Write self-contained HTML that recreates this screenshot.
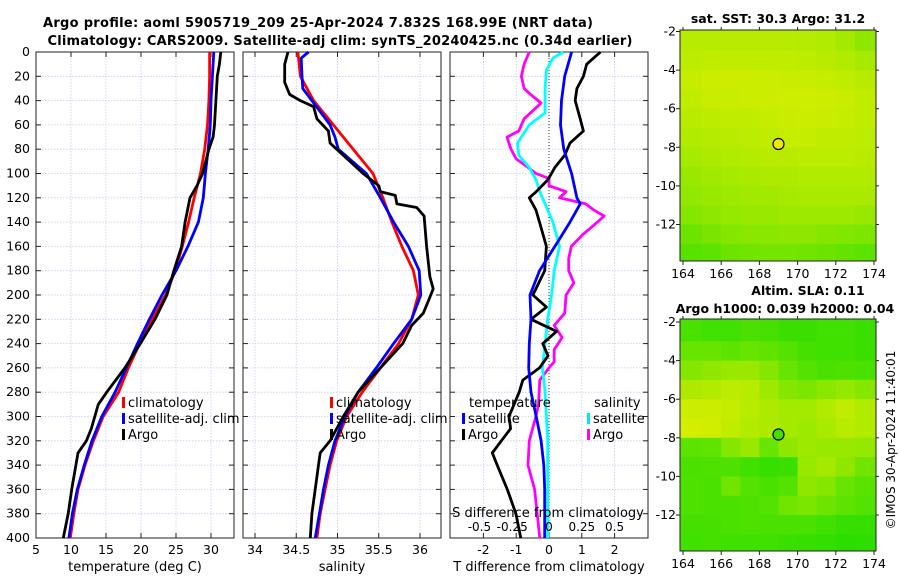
<!DOCTYPE html>
<html><head><meta charset="utf-8"><style>
body{margin:0;background:#fff;}
svg{display:block;font-family:"DejaVu Sans","Liberation Sans",sans-serif;}
</style></head><body>
<svg id="c" width="900" height="580" viewBox="0 0 900 580">
<rect width="900" height="580" fill="#fff"/>
<text x="318" y="27" font-size="13" font-weight="bold" text-anchor="middle" textLength="550">Argo profile: aoml 5905719_209 25-Apr-2024 7.832S 168.99E (NRT data)</text>
<text x="340" y="45" font-size="13" font-weight="bold" text-anchor="middle" textLength="585">Climatology: CARS2009. Satellite-adj clim: synTS_20240425.nc (0.34d earlier)</text>
<text x="778" y="23" font-size="12.5" font-weight="bold" text-anchor="middle">sat. SST: 30.3 Argo: 31.2</text>
<text x="808" y="295" font-size="12.5" font-weight="bold" text-anchor="middle">Altim. SLA: 0.11</text>
<text x="785" y="313" font-size="12.5" font-weight="bold" text-anchor="middle">Argo h1000: 0.039 h2000: 0.04</text>
<text x="0" y="0" font-size="12" text-anchor="middle" transform="translate(895,440) rotate(-90)">©IMOS 30-Apr-2024 11:40:01</text>
<g id="g"></g>
</svg>
<script>
// ---- profile data ----
const depthsClim = [0,20,40,60,80,100,120,140,160,180,200,220,240,260,280,300,320,340,360,380,400];
const tempClim = [29.8,29.8,29.7,29.5,29.1,28.5,27.6,26.8,25.9,24.9,23.5,21.6,19.8,18.2,16.8,14.6,13.2,12.0,11.0,10.4,9.9];
const tempSat = [30.4,30.2,30.0,29.9,29.6,29.2,28.9,28.2,26.7,25.0,23.0,21.2,19.5,17.9,16.3,14.4,13.0,11.9,10.9,10.2,9.7];
const depthsArgoT = [0,10,20,40,60,70,80,100,110,120,140,160,180,200,220,240,260,280,290,300,310,320,330,340,360,380,400];
const tempArgo = [31.4,31.2,30.9,30.7,30.5,30.3,29.7,28.8,28.0,27.0,26.3,25.8,24.7,23.7,22.0,19.9,17.7,15.1,13.9,13.4,12.9,12.2,11.0,10.7,10.1,9.6,8.9];
const salClim = [34.52,34.55,34.71,34.95,35.19,35.43,35.55,35.66,35.78,35.92,35.98,35.9,35.74,35.52,35.3,35.11,34.99,34.91,34.85,34.79,34.75];
const depthsSalSat = [0,5,20,30,40,60,70,80,100,120,140,160,180,200,220,240,260,280,300,320,340,360,380,400];
const salSat = [34.65,34.56,34.57,34.58,34.69,34.91,34.97,35.01,35.35,35.52,35.68,35.86,35.99,36.01,35.9,35.68,35.47,35.25,35.09,34.97,34.89,34.83,34.78,34.73];
const depthsSalArgo = [0,10,25,35,40,45,55,65,75,80,90,100,110,115,118,125,128,135,160,185,195,205,215,225,240,260,280,300,320,330,340,360,380,400];
const salArgo = [34.4,34.36,34.36,34.42,34.55,34.71,34.75,34.89,34.91,34.99,35.15,35.31,35.5,35.52,35.7,35.72,35.96,36.05,36.08,36.12,36.16,36.1,36.04,35.9,35.79,35.52,35.25,35.07,34.91,34.79,34.77,34.73,34.69,34.67];
const depthsDT = [0,20,40,60,80,100,120,125,140,160,180,200,220,240,260,280,300,320,340,360,380,400];
const dTsat = [0.69,0.48,0.38,0.35,0.45,0.69,0.85,0.95,0.64,0.18,-0.29,-0.58,-0.55,-0.6,-0.62,-0.55,-0.39,-0.24,-0.16,-0.13,-0.13,-0.13];
const depthsDTArgo = [0,5,10,20,30,40,55,65,75,85,95,105,115,120,130,140,160,180,200,210,220,230,240,250,260,270,280,300,310,330,340,360,380,400];
const dTargo = [1.57,1.36,1.15,1.05,0.85,0.8,0.95,1.05,0.64,0.48,0.18,-0.03,-0.39,-0.6,-0.4,-0.29,-0.08,-0.13,-0.49,-0.08,-0.55,0.23,-0.19,-0.03,-0.29,-0.8,-0.91,-1.22,-1.17,-1.73,-1.58,-1.27,-1.01,-0.86];
const depthsDS = [0,5,15,30,50,60,75,85,95,105,115,125,140,160,180,200,220,240,260,280,300,320,400];
const dSsat = [0.11,0.03,-0.02,-0.03,-0.03,-0.15,-0.24,-0.23,-0.15,-0.1,-0.07,-0.03,0.03,0.08,0.04,0.02,-0.01,-0.03,-0.05,-0.03,-0.02,-0.01,-0.01];
const depthsDSArgo = [0,10,20,30,35,42,48,55,65,70,80,88,95,100,104,110,115,120,125,130,135,140,150,160,170,180,190,200,215,225,235,245,255,260,270,290,300,320,340,360,380,400];
const dSargo = [-0.15,-0.19,-0.21,-0.19,-0.14,-0.06,-0.12,-0.19,-0.23,-0.32,-0.29,-0.25,-0.16,-0.1,0.0,0.0,0.13,0.08,0.28,0.34,0.42,0.37,0.26,0.17,0.15,0.15,0.19,0.13,0.12,0.04,0.1,0.04,0.04,0.0,-0.07,-0.08,-0.1,-0.15,-0.16,-0.11,-0.09,-0.07];
const depthTicks = [0,20,40,60,80,100,120,140,160,180,200,220,240,260,280,300,320,340,360,380,400];
const tempTicks = [5,10,15,20,25,30];
const salTicks = [34,34.5,35,35.5,36];
const dTTicks = [-2,-1,0,1,2];
const dSTickLabels = ["-0.5","-0.25","0","0.25","0.5"];
const dSTicks = [-0.5,-0.25,0,0.25,0.5];
// ---- map data (10 lon cols 164..174 x 12 lat rows -2..-14), 0=green 1=yellow ----
const sstGrid = [
[0.75,0.75,0.76,0.76,0.76,0.75,0.74,0.72,0.65,0.55],
[0.78,0.8,0.8,0.8,0.8,0.8,0.78,0.76,0.72,0.66],
[0.82,0.85,0.86,0.86,0.85,0.84,0.84,0.82,0.8,0.76],
[0.8,0.84,0.84,0.85,0.86,0.87,0.87,0.86,0.84,0.8],
[0.76,0.78,0.8,0.8,0.82,0.84,0.85,0.84,0.82,0.8],
[0.72,0.74,0.76,0.78,0.8,0.82,0.82,0.8,0.8,0.78],
[0.66,0.7,0.72,0.74,0.76,0.76,0.78,0.78,0.78,0.76],
[0.6,0.64,0.66,0.68,0.7,0.7,0.72,0.72,0.72,0.72],
[0.56,0.6,0.62,0.64,0.64,0.66,0.68,0.68,0.68,0.68],
[0.5,0.54,0.58,0.6,0.6,0.62,0.62,0.62,0.62,0.6],
[0.38,0.44,0.5,0.52,0.52,0.54,0.54,0.5,0.48,0.46],
[0.28,0.3,0.38,0.4,0.42,0.42,0.4,0.38,0.34,0.3]];
const slaGrid = [
[0.2,0.15,0.15,0.2,0.18,0.12,0.12,0.15,0.15,0.12],
[0.35,0.35,0.3,0.35,0.32,0.25,0.18,0.15,0.15,0.12],
[0.5,0.55,0.6,0.6,0.5,0.35,0.25,0.2,0.22,0.2],
[0.7,0.72,0.78,0.75,0.62,0.5,0.45,0.52,0.58,0.5],
[0.85,0.85,0.82,0.75,0.7,0.65,0.65,0.72,0.8,0.72],
[0.9,0.88,0.8,0.72,0.7,0.65,0.62,0.68,0.75,0.72],
[0.3,0.32,0.5,0.6,0.35,0.55,0.62,0.6,0.6,0.58],
[0.2,0.22,0.22,0.15,0.1,0.12,0.6,0.65,0.55,0.4],
[0.22,0.2,0.4,0.25,0.2,0.25,0.55,0.5,0.35,0.28],
[0.22,0.2,0.2,0.22,0.25,0.4,0.45,0.38,0.3,0.25],
[0.18,0.18,0.2,0.22,0.2,0.2,0.2,0.15,0.1,0.1],
[0.15,0.18,0.15,0.15,0.15,0.12,0.1,0.08,0.04,0.06]];
const lonTicks = [164,166,168,170,172,174];
const latTicks = [-2,-4,-6,-8,-10,-12];
const argoLon = 169.0, argoLat = -7.83;

const NS="http://www.w3.org/2000/svg";
const G=document.getElementById('g');
function mk(tag,attrs,parent){const e=document.createElementNS(NS,tag);for(const k in attrs)e.setAttribute(k,attrs[k]);(parent||G).appendChild(e);return e;}
function txt(s,x,y,attrs,parent){const e=mk('text',Object.assign({x:x,y:y,'font-size':12},attrs||{}),parent);e.textContent=s;return e;}

const TOP=52,BOT=538;
function yD(d){return TOP+d*(BOT-TOP)/400;}
function lin(d0,p0,d1,p1){return v=>p0+(v-d0)*(p1-p0)/(d1-d0);}
const panels=[
 {x0:36,x1:234,sx:lin(5,36,30,211),ticks:tempTicks,name:'temperature-panel'},
 {x0:243,x1:441,sx:lin(34,255,36,420),ticks:salTicks,name:'salinity-panel'},
 {x0:450,x1:648,sx:lin(0,549,1,581.8),ticks:dTTicks,name:'difference-panel'}];
const sxS=lin(0,549,0.25,581.8);

panels.forEach((p,i)=>{
 const g=mk('g',{});  
 depthTicks.forEach(d=>{mk('line',{x1:p.x0,x2:p.x1,y1:yD(d),y2:yD(d),stroke:'#c4cbee','stroke-width':0.8,'stroke-dasharray':'1.5,1.5'},g);
  mk('line',{x1:p.x0,x2:p.x0+5,y1:yD(d),y2:yD(d),stroke:'#222'},g);
  mk('line',{x1:p.x1,x2:p.x1-5,y1:yD(d),y2:yD(d),stroke:'#222'},g);
  if(i==0){const t=txt(String(d),30,yD(d)+4,{'text-anchor':'end','font-size':12.5},g);}});
 p.ticks.forEach(v=>{const x=p.sx(v);
  mk('line',{x1:x,x2:x,y1:TOP,y2:BOT,stroke:'#c4cbee','stroke-width':0.8,'stroke-dasharray':'1.5,1.5'},g);
  mk('line',{x1:x,x2:x,y1:BOT,y2:BOT-5,stroke:'#222'},g);
  mk('line',{x1:x,x2:x,y1:TOP,y2:TOP+5,stroke:'#222'},g);
  const t=txt(String(v),x,BOT+16,{'text-anchor':'middle','font-size':12.5},g);
  
  });
 const fr=mk('rect',{x:p.x0,y:TOP,width:p.x1-p.x0,height:BOT-TOP,fill:'none',stroke:'#222','stroke-width':1},g);
 
 
});
mk('line',{x1:549,x2:549,y1:TOP,y2:BOT,stroke:'#333','stroke-width':1,'stroke-dasharray':'1,2'});

function line(ds,vs,sx,color,name){const pts=ds.map((d,k)=>sx(vs[k]).toFixed(1)+','+yD(d).toFixed(1)).join(' ');
 const e=mk('polyline',{points:pts,fill:'none',stroke:color,'stroke-width':2.8,'stroke-linejoin':'round'});
 
 }
const pT=panels[0].sx,pS=panels[1].sx,pD=panels[2].sx;
line(depthsClim,tempClim,pT,'#ff0000','temp-climatology-line');
line(depthsClim,tempSat,pT,'#0000ff','temp-satellite-line');
line(depthsArgoT,tempArgo,pT,'#000','temp-argo-line');
line(depthsClim,salClim,pS,'#ff0000','sal-climatology-line');
line(depthsSalSat,salSat,pS,'#0000ff','sal-satellite-line');
line(depthsSalArgo,salArgo,pS,'#000','sal-argo-line');
line(depthsDSArgo,dSargo,sxS,'#ff00ff','sdiff-argo-line');
line(depthsDS,dSsat,sxS,'#00ffff','sdiff-satellite-line');
line(depthsDTArgo,dTargo,pD,'#000','tdiff-argo-line');
line(depthsDT,dTsat,pD,'#0000ff','tdiff-satellite-line');

function legItem(x,y,color,label){const b=mk('rect',{x:x,y:y-10,width:3,height:11,fill:color});
 
 
 const t=txt(label,x+6,y,{'font-size':13});
 
 }
[[122,0],[330,1]].forEach(([x])=>{legItem(x,407,'#ff0000','climatology');legItem(x,423,'#0000ff','satellite-adj. clim');legItem(x,439,'#000','Argo');});
txt('temperature',469,407,{'font-size':13});
legItem(462,423,'#0000ff','satellite');legItem(462,439,'#000','Argo');
txt('salinity',594,407,{'font-size':13});
legItem(587,423,'#00e8e8','satellite');legItem(587,439,'#ff00ff','Argo');
txt('temperature (deg C)',135,571,{'text-anchor':'middle','font-size':13});
txt('salinity',342,571,{'text-anchor':'middle','font-size':13});
txt('T difference from climatology',549,571,{'text-anchor':'middle','font-size':13});
txt('S difference from climatology',548,517,{'text-anchor':'middle','font-size':13});
dSTicks.forEach((v,k)=>{const t=txt(dSTickLabels[k],sxS(v)+(k==1?-4:(k==0?-4:0)),531,{'text-anchor':'middle','font-size':12});
 
 });

// ---- maps ----
function col(v){const g0=[34,221,0],y1=[232,240,0];const c=g0.map((a,k)=>Math.round(a+(y1[k]-a)*v));return 'rgb('+c.join(',')+')';}
function map(grid,x0,x1,y0,y1,latTop,name,dotColor){
 const lx=lin(164,683,174,874), ly=lin(-2,latTop,-12,latTop+193);
 const g=mk('g',{});  
 const clipId=name+'-clip';const cp=mk('clipPath',{id:clipId},g);mk('rect',{x:x0,y:y0,width:x1-x0,height:y1-y0},cp);
 const cg=mk('g',{'clip-path':'url(#'+clipId+')'},g);
 grid.forEach((row,r)=>row.forEach((v,c)=>{const xa=lx(164+c)-(c==0?5:0),xb=lx(165+c)+(c==9?5:0),ya=ly(-2-r)-(r==0?5:0),yb=ly(-3-r)+(r==11?5:0);
  const e=mk('rect',{x:xa,y:ya,width:xb-xa+0.5,height:yb-ya+0.5,fill:col(v)},cg);
  
  }));
 mk('rect',{x:x0,y:y0,width:x1-x0,height:y1-y0,fill:'none',stroke:'#222'},g);
 lonTicks.forEach(v=>{const x=lx(v);mk('line',{x1:x,x2:x,y1:y1,y2:y1+4,stroke:'#222'},g);mk('line',{x1:x,x2:x,y1:y0,y2:y0-3,stroke:'#222'},g);txt(String(v),x,y1+17,{'text-anchor':'middle','font-size':12.5},g);});
 latTicks.forEach(v=>{const y=ly(v);mk('line',{x1:x0,x2:x0-4,y1:y,y2:y,stroke:'#222'},g);mk('line',{x1:x1,x2:x1+3,y1:y,y2:y,stroke:'#222'},g);txt(String(v),x0-4,y+4,{'text-anchor':'end','font-size':12.5},g);});
 const d=mk('circle',{cx:lx(argoLon),cy:ly(argoLat),r:5.5,fill:dotColor,stroke:'#000','stroke-width':1.2},g);
 
 
}
map(sstGrid,680,876,30,261,31.5,'sst-map','#f0e800');
map(slaGrid,680,876,319,551,322,'sla-map','#40e000');
</script>
</body></html>
